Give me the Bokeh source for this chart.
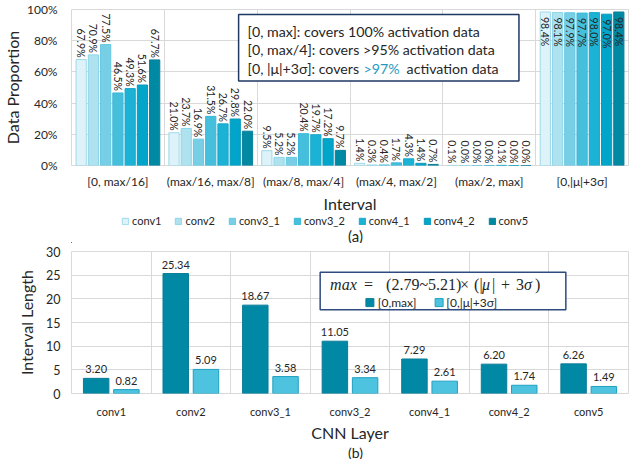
import numpy as np
from bokeh.plotting import figure
from bokeh.models import (FixedTicker, Legend, LegendItem, Range1d,
                          NumeralTickFormatter, AllLabels)
from bokeh.layouts import column
from bokeh.core.properties import value
from bokeh.embed import file_html
from bokeh.resources import INLINE

# ---------------- data ----------------
intervals = ["[0, max/16]", "(max/16, max/8]", "(max/8, max/4]",
             "(max/4, max/2]", "(max/2, max]", "[0,|μ|+3σ]"]
layers = ["conv1", "conv2", "conv3_1", "conv3_2", "conv4_1", "conv4_2", "conv5"]

conv1 = [67.9, 21.0, 9.5, 1.4, 0.1, 98.4]
conv2 = [70.9, 23.7, 5.2, 0.3, 0.0, 98.1]
conv3_1 = [77.5, 16.9, 5.2, 0.4, 0.0, 97.9]
conv3_2 = [46.5, 31.5, 20.4, 1.7, 0.0, 97.7]
conv4_1 = [49.3, 26.7, 19.7, 4.3, 0.1, 98.0]
conv4_2 = [51.6, 29.8, 17.2, 1.4, 0.0, 97.0]
conv5 = [67.7, 22.0, 9.7, 0.7, 0.0, 98.4]
proportions = [conv1, conv2, conv3_1, conv3_2, conv4_1, conv4_2, conv5]

len_max = [3.20, 25.34, 18.67, 11.05, 7.29, 6.20, 6.26]
len_sigma = [0.82, 5.09, 3.58, 3.34, 2.61, 1.74, 1.49]

y_ticks_a = [0, 0.2, 0.4, 0.6, 0.8, 1.0]
y_ticks_b = [0, 5, 10, 15, 20, 25, 30]

box_lines = ["[0, max]: covers 100% activation data",
             "[0, max/4]: covers >95% activation data"]

FONT = "Lato"
fills = ["#DEF3F9", "#AEE2EF", "#78CFE5", "#46BFDC", "#1BB2D5", "#00A5C9", "#0089A3"]
lines = ["#9ED9E9", "#8DD6E9", "#63C8E1", "#3AB8D7", "#18A9CC", "#0A9ABC", "#0B7F97"]
GRID = "#D9D9D9"
TXT = "#262626"
W = 632
LB, RB = 68, 4


def style(p):
    p.outline_line_color = GRID
    p.grid.grid_line_color = GRID
    for ax in (p.xaxis, p.yaxis):
        ax.axis_line_color = None
        ax.major_tick_line_color = None
        ax.minor_tick_line_color = None
        ax.major_tick_out = 0
        ax.major_label_policy = AllLabels()
        ax.major_label_text_font = FONT
        ax.major_label_text_color = TXT
        ax.major_label_text_line_height = 1.0
        ax.axis_label_text_font = FONT
        ax.axis_label_text_font_style = "normal"
        ax.axis_label_text_color = TXT
        ax.axis_label_text_font_size = "16px"
        ax.axis_label_text_line_height = 1.0


def strip(h):
    s = figure(width=W, height=h, x_range=Range1d(0, 1), y_range=Range1d(0, h),
               output_backend="svg", toolbar_location=None,
               min_border_left=LB, min_border_right=RB, min_border_top=0,
               min_border_bottom=0, x_axis_location=None, y_axis_location=None)
    s.grid.visible = False
    s.outline_line_color = None
    return s


# ---------------- (a) ----------------
ng = len(intervals)
p1 = figure(width=W, height=215, x_range=Range1d(0, ng), y_range=Range1d(0, 1),
            output_backend="svg", toolbar_location=None,
            min_border_left=LB, min_border_right=RB, min_border_top=9,
            min_border_bottom=40)
style(p1)
centers = [i + 0.5 for i in range(ng)]
p1.xaxis.ticker = FixedTicker(ticks=centers)
p1.xaxis.major_label_overrides = {c: lab for c, lab in zip(centers, intervals)}
p1.xgrid.ticker = FixedTicker(ticks=list(range(ng + 1)))
p1.yaxis.ticker = FixedTicker(ticks=y_ticks_a)
p1.yaxis.formatter = NumeralTickFormatter(format="0%")
p1.xaxis.major_label_text_font_size = "12px"
p1.yaxis.major_label_text_font_size = "12px"
p1.xaxis.major_label_standoff = 8
p1.xaxis.axis_label = "Interval"
p1.xaxis.axis_label_standoff = 2
p1.yaxis.axis_label = "Data Proportion"
p1.yaxis.major_label_standoff = 14
p1.yaxis.axis_label_standoff = 2

pitch, bw = 0.132, 0.11
leg_a = strip(28)
items = []
for k, (name, vals) in enumerate(zip(layers, proportions)):
    xs = [c + (k - 3) * pitch for c in centers]
    tops = [v / 100 for v in vals]
    p1.vbar(x=xs, top=tops, width=bw, fill_color=fills[k], line_color=lines[k],
            line_width=1)
    # legend proxy, kept outside the visible range of the strip below
    r = leg_a.vbar(x=[-5], top=[1], width=0.1, fill_color=fills[k],
                   line_color=lines[k], line_width=1)
    items.append(LegendItem(label=name, renderers=[r]))
    labs = ["%.1f%%" % v for v in vals]
    p1.text(x=xs[:-1], y=tops[:-1], text=labs[:-1], angle=-np.pi / 2,
            text_align="right", text_baseline="middle", y_offset=-2,
            text_font=value(FONT), text_font_size="10.5px", text_color=TXT)
    p1.text(x=xs[-1:], y=tops[-1:], text=labs[-1:], angle=-np.pi / 2,
            text_align="left", text_baseline="middle", y_offset=5,
            text_font=value(FONT), text_font_size="10.5px", text_color=TXT)

# annotation box
p1.quad(left=[1.80], right=[4.82], bottom=[0.541], top=[0.968],
        fill_color="white", line_color="#1F3864", line_width=1.5)
p1.text(x=[1.897, 1.897], y=[0.862, 0.745], text=box_lines,
        text_font=value(FONT), text_font_size="14.2px", text_baseline="middle",
        text_color=TXT)
p1.text(x=[1.897], y=[0.622], text=["[0, |μ|+3σ]: covers"],
        text_font=value(FONT), text_font_size="14.2px", text_baseline="middle",
        text_color=TXT)
p1.text(x=[1.897], y=[0.622], text=[">97%"], x_offset=116,
        text_font=value(FONT), text_font_size="14.2px", text_baseline="middle",
        text_color="#1F9BC2")
p1.text(x=[1.897], y=[0.622], text=["activation data"], x_offset=159,
        text_font=value(FONT), text_font_size="14.2px", text_baseline="middle",
        text_color=TXT)

leg = Legend(items=items, orientation="horizontal", location=(50, 16),
             glyph_width=8, glyph_height=8, label_text_font=FONT,
             label_text_font_size="11px", label_text_color=TXT,
             label_standoff=3, spacing=13, padding=0, margin=0,
             border_line_color=None, background_fill_alpha=0, label_height=12)
leg_a.add_layout(leg)
leg_a.text(x=[0.51], y=[8], text=["(a)"], text_align="center", text_baseline="middle",
           text_font=value(FONT), text_font_size="15px", text_color=TXT)

# ---------------- (b) ----------------
nb = len(layers)
p2 = figure(width=W, height=201, x_range=Range1d(0, nb), y_range=Range1d(0, 30),
            output_backend="svg", toolbar_location=None,
            min_border_left=LB, min_border_right=RB, min_border_top=8,
            min_border_bottom=40)
style(p2)
cb = [i + 0.5 for i in range(nb)]
p2.xaxis.ticker = FixedTicker(ticks=cb)
p2.xaxis.major_label_overrides = {c: lab for c, lab in zip(cb, layers)}
p2.xgrid.ticker = FixedTicker(ticks=list(range(nb + 1)))
p2.yaxis.ticker = FixedTicker(ticks=y_ticks_b)
p2.xaxis.major_label_text_font_size = "11px"
p2.yaxis.major_label_text_font_size = "12.5px"
p2.xaxis.major_label_standoff = 11
p2.xaxis.axis_label = "CNN Layer"
p2.xaxis.axis_label_standoff = 2
p2.yaxis.axis_label = "Interval Length"
p2.yaxis.major_label_standoff = 11
p2.yaxis.axis_label_standoff = 7

x1 = [c - 0.19 for c in cb]
x2 = [c + 0.19 for c in cb]
p2.vbar(x=x1, top=len_max, width=0.32, fill_color="#0088A5",
        line_color="#0B7D97", line_width=1)
p2.vbar(x=x2, top=len_sigma, width=0.32, fill_color="#4DC3E0",
        line_color="#1FA0C0", line_width=1)
p2.text(x=x1, y=len_max, text=["%.2f" % v for v in len_max], text_align="center",
        text_baseline="bottom", y_offset=-5, text_font=value(FONT),
        text_font_size="11px", text_color=TXT)
p2.text(x=x2, y=len_sigma, text=["%.2f" % v for v in len_sigma], text_align="center",
        text_baseline="bottom", y_offset=-5, text_font=value(FONT),
        text_font_size="11px", text_color=TXT)

# legend box with formula
p2.quad(left=[3.125], right=[6.2125], bottom=[17.7], top=[25.6],
        fill_color="white", line_color="#2F4A7E", line_width=1.5)
SERIF = "Liberation Serif"
pieces = [("max", 0, "italic"), ("=", 34, "normal"), ("(2.79~5.21)", 56, "normal"),
          ("×", 130, "normal"), ("(|", 144, "normal"), ("μ", 152, "italic"),
          ("|", 162, "normal"), ("+", 171, "normal"), ("3", 186, "normal"),
          ("σ", 194, "italic"), (")", 205, "normal")]
for txt, off, sty in pieces:
    p2.text(x=[3.25], y=[23.1], text=[txt], x_offset=off, text_baseline="middle",
            text_font=value(SERIF), text_font_style=sty, text_font_size="16px",
            text_color=TXT)
p2.scatter(x=[3.75], y=[19.2], marker="square", size=8, fill_color="#0088A5",
           line_color="#0B7D97")
p2.scatter(x=[4.62], y=[19.2], marker="square", size=8, fill_color="#4DC3E0",
           line_color="#1FA0C0")
p2.text(x=[3.85, 4.71], y=[19.2, 19.2], text=["[0,max]", "[0,|μ|+3σ]"],
        text_baseline="middle", text_font=value(FONT), text_font_size="12px",
        text_color=TXT)

cap_b = strip(15)
cap_b.text(x=[0.51], y=[7.5], text=["(b)"], text_align="center", text_baseline="middle",
           text_font=value(FONT), text_font_size="14px", text_color=TXT)

layout = column(p1, leg_a, p2, cap_b, spacing=0)
open("out.html", "w").write(file_html(layout, INLINE))
